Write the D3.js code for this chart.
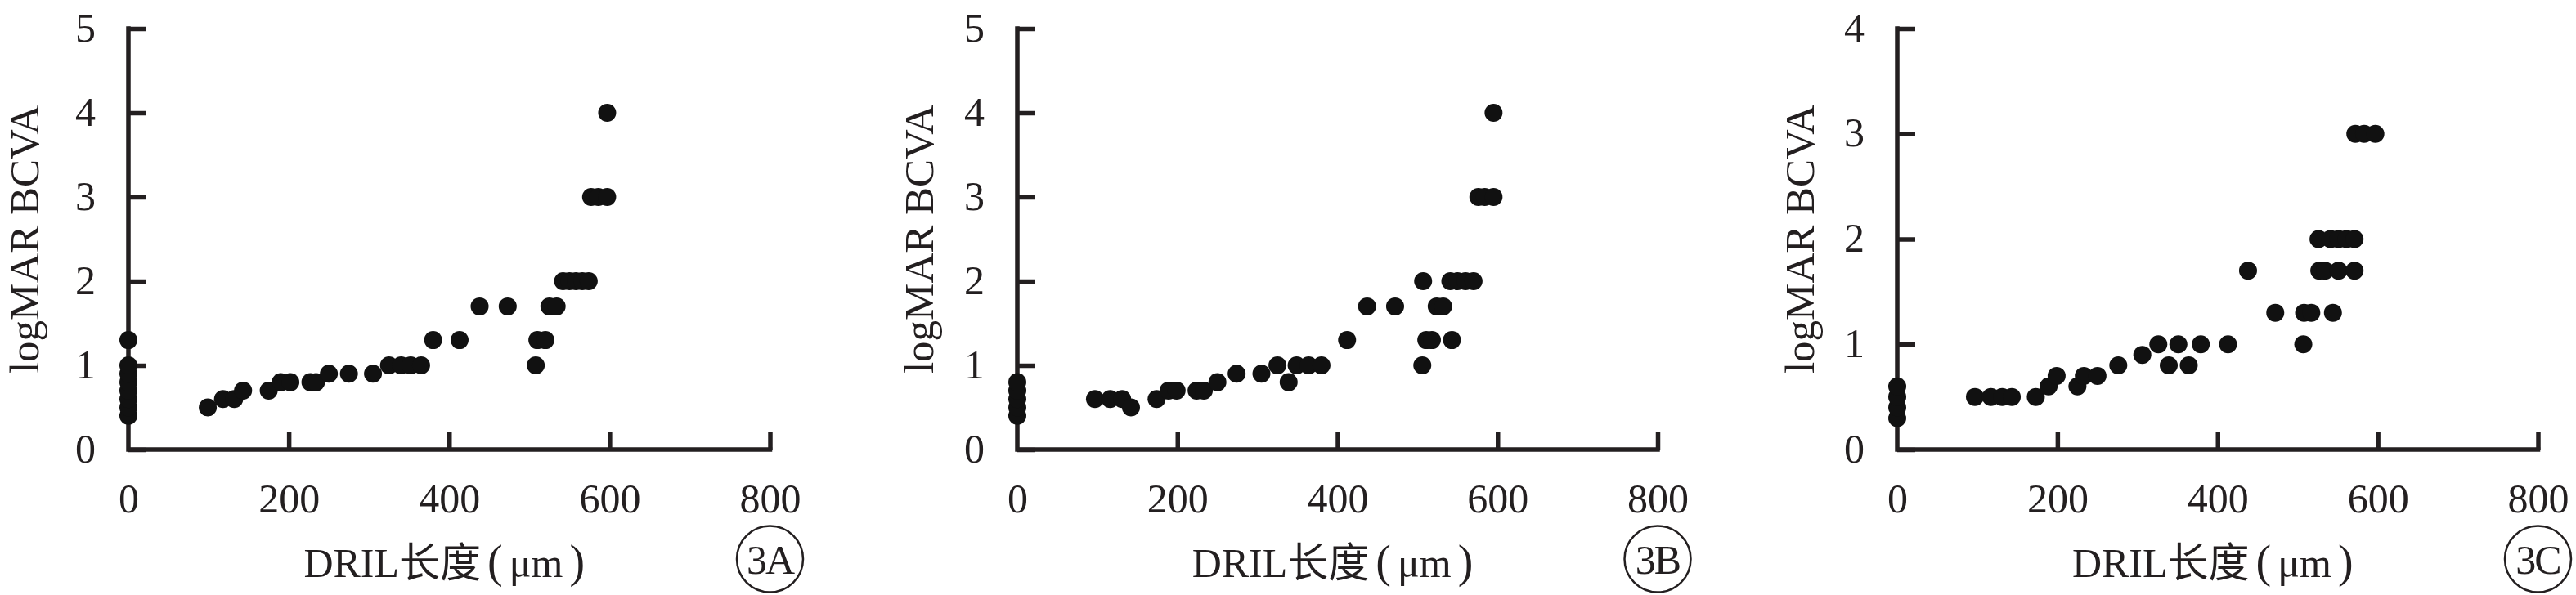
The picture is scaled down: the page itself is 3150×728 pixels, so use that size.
<!DOCTYPE html>
<html>
<head>
<meta charset="utf-8">
<script src="https://cdn.jsdelivr.net/npm/d3@7"></script>
<style>
  html, body { margin: 0; padding: 0; background: #fff; }
  svg { display: block; }
  text { font-family: "Liberation Serif", "Times New Roman", "Noto Sans CJK SC", serif; fill: #231f20; }
</style>
</head>
<body>
<svg id="chart" width="3150" height="728"></svg>
<script>
// ---------- data ----------
const panelNames = ["3A", "3B", "3C"];
const xTicks = [0, 200, 400, 600, 800];
const yTicksAB = [0, 1, 2, 3, 4, 5];
const yTicksC = [0, 1, 2, 3, 4];
const xLabelParts = ["DRIL长度", "(", "μm", ")"];
const yLabel = "logMAR BCVA";

const xA = [0,0,0,0,0,0,0,0, 99,118,132,143,175,190,202,227,234,250,275,305,325,340,352,365,380,413,438,473,508,510,520,525,534,542,550,558,566,574,577,586,597,597];
const yA = [0.4,0.5,0.6,0.7,0.8,0.9,1.0,1.3, 0.5,0.6,0.6,0.7,0.7,0.8,0.8,0.8,0.8,0.9,0.9,0.9,1.0,1.0,1.0,1.0,1.3,1.3,1.7,1.7,1.0,1.3,1.3,1.7,1.7,2.0,2.0,2.0,2.0,2.0,3.0,3.0,3.0,4.0];

const xB = [0,0,0,0,0, 97,116,131,142,174,189,199,224,233,250,274,305,325,339,349,364,380,412,437,472,506,507,511,518,524,532,543,541,550,560,570,576,584,595,595];
const yB = [0.4,0.5,0.6,0.7,0.8, 0.6,0.6,0.6,0.5,0.6,0.7,0.7,0.7,0.7,0.8,0.9,0.9,1.0,0.8,1.0,1.0,1.0,1.3,1.7,1.7,1.0,2.0,1.3,1.3,1.7,1.7,1.3,2.0,2.0,2.0,2.0,3.0,3.0,3.0,4.0];

const xC = [0,0,0,0, 97,117,131,143,173,189,199,225,233,250,276,306,326,339,351,364,379,413,438,472,507,508,517,526,527,534,544,541,551,561,571,551,571,572,583,597];
const yC = [0.3,0.4,0.5,0.6, 0.5,0.5,0.5,0.5,0.5,0.6,0.7,0.6,0.7,0.7,0.8,0.9,1.0,0.8,1.0,0.8,1.0,1.0,1.7,1.3,1.0,1.3,1.3,2.0,1.7,1.7,1.3,2.0,2.0,2.0,2.0,1.7,1.7,3.0,3.0,3.0];

const panels = [
  { name: panelNames[0], xs: xA, ys: yA, yMax: 5, yTicks: yTicksAB, x0: 157, x1: 941.5, labelOff: 110 },
  { name: panelNames[1], xs: xB, ys: yB, yMax: 5, yTicks: yTicksAB, x0: 1244, x1: 2027, labelOff: 103 },
  { name: panelNames[2], xs: xC, ys: yC, yMax: 4, yTicks: yTicksC, x0: 2320, x1: 3103.5, labelOff: 102 }
];

// ---------- layout ----------
const yTop = 35, yBottom = 550;
const ink = "#231f20";
const axisW = 5.5;
const svg = d3.select("#chart");

panels.forEach(p => {
  const x = d3.scaleLinear().domain([0, 800]).range([p.x0, p.x1]);
  const y = d3.scaleLinear().domain([0, p.yMax]).range([yBottom, yTop]);
  const g = svg.append("g");

  // y axis (ticks inward)
  const ya = g.append("g").attr("transform", `translate(${p.x0},0)`)
    .call(d3.axisLeft(y).tickValues(p.yTicks).tickFormat(d3.format("d"))
      .tickSizeInner(-22).tickSizeOuter(0).tickPadding(40));
  ya.select(".domain").remove();
  ya.selectAll("line").attr("stroke", ink).attr("stroke-width", axisW);
  ya.selectAll("text").attr("font-size", 50).attr("dy", "0.3em")
    .style("font-family", '"Liberation Serif", serif').attr("fill", ink);

  // x axis (ticks inward)
  const xa = g.append("g").attr("transform", `translate(0,${yBottom})`)
    .call(d3.axisBottom(x).tickValues(xTicks).tickFormat(d3.format("d"))
      .tickSizeInner(-21).tickSizeOuter(0).tickPadding(41));
  xa.select(".domain").remove();
  xa.selectAll("line").attr("stroke", ink).attr("stroke-width", axisW);
  xa.selectAll(".tick").filter(d => d === 0).select("line").remove();
  xa.selectAll("text").attr("font-size", 50)
    .style("font-family", '"Liberation Serif", serif').attr("fill", ink);

  // axis frame lines
  g.append("path")
    .attr("d", `M${p.x0},${y(p.yMax) - axisW / 2}V${yBottom}H${x(800) + axisW / 2}`)
    .attr("fill", "none").attr("stroke", ink).attr("stroke-width", axisW)
    .attr("stroke-linejoin", "miter");

  // points
  g.append("g").selectAll("circle")
    .data(d3.range(p.xs.length))
    .join("circle")
    .attr("cx", i => x(p.xs[i]))
    .attr("cy", i => y(p.ys[i]))
    .attr("r", 11)
    .attr("fill", "#111");

  // y label
  g.append("text")
    .attr("transform", `translate(${p.x0 - p.labelOff},${(yTop + yBottom) / 2}) rotate(-90)`)
    .attr("text-anchor", "middle")
    .attr("font-size", 51)
    .text(yLabel);

  // x label
  const xl = g.append("text")
    .attr("x", (p.x0 + p.x1) / 2 - 6)
    .attr("y", 706)
    .attr("text-anchor", "middle")
    .attr("font-size", 50);
  xl.append("tspan").text(xLabelParts[0]);
  xl.append("tspan").attr("dx", 8).attr("font-size", 56).text(xLabelParts[1]);
  xl.append("tspan").attr("dx", 8).text(xLabelParts[2]);
  xl.append("tspan").attr("dx", 8).attr("font-size", 56).text(xLabelParts[3]);

  // circled panel name
  g.append("circle")
    .attr("cx", x(800)).attr("cy", 684).attr("r", 40.5)
    .attr("fill", "none").attr("stroke", ink).attr("stroke-width", 2.5);
  g.append("text")
    .attr("x", x(800)).attr("y", 702)
    .attr("text-anchor", "middle")
    .attr("font-size", 50)
    .attr("letter-spacing", -2)
    .text(p.name);
});
</script>
</body>
</html>
